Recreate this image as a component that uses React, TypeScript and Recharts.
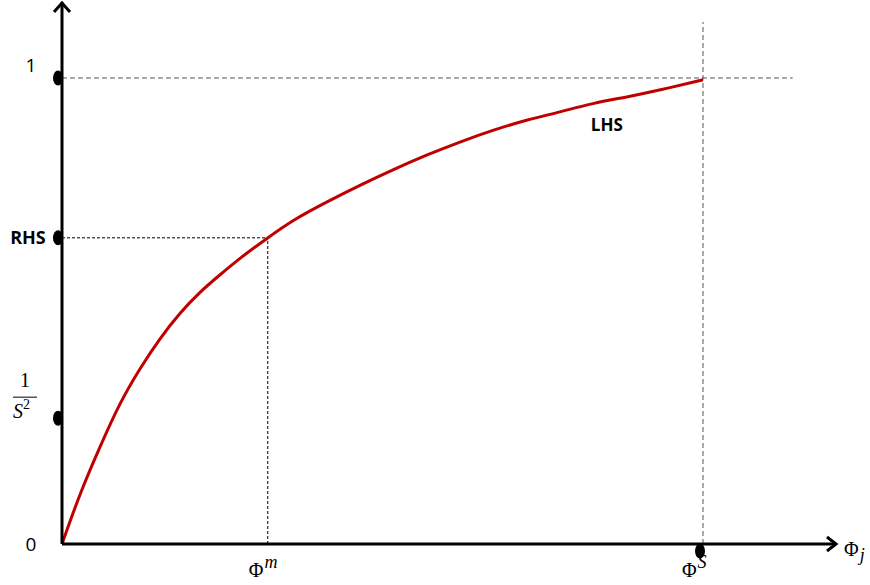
import React from "react";
import {
  Line,
  LineChart,
  ReferenceDot,
  ReferenceLine,
  XAxis,
  YAxis,
} from "recharts";

// Φ axis: Φ^S = 1. Vertical axis: top dashed level = 1.
const PHI_VALUES = [
  0, 0.028, 0.059, 0.09, 0.122, 0.153, 0.184, 0.215, 0.246, 0.278, 0.321, 0.36,
  0.413, 0.465, 0.516, 0.569, 0.621, 0.672, 0.725, 0.777, 0.828, 0.881, 0.933, 1,
];
const LHS_VALUES = [
  0, 0.109, 0.208, 0.303, 0.378, 0.442, 0.496, 0.541, 0.577, 0.614, 0.657, 0.695,
  0.734, 0.77, 0.803, 0.835, 0.863, 0.888, 0.91, 0.927, 0.946, 0.959, 0.974, 0.996,
];

const PHI_M = 0.321;
const PHI_S = 1;
const RHS_LEVEL = 0.657;
const INV_S2 = 0.27;
const TOP_LEVEL = 1;

const X_MAX = 1.2075;
const Y_MAX = 1.163;
const X_TICKS = [PHI_M, PHI_S];
const Y_TICKS = [0, INV_S2, RHS_LEVEL, TOP_LEVEL];

const data = PHI_VALUES.map((phi, i) => ({ phi, lhs: LHS_VALUES[i] }));

const sans = "'Open Sans', 'Noto Sans', sans-serif";
const serif = "'Liberation Serif', 'DejaVu Serif', serif";

function YTick({ x, y, payload }: any) {
  const v = payload?.value;
  if (v === 0) {
    return (
      <text x={x - 31} y={y + 2} textAnchor="middle" fontFamily={sans} fontSize={19} fill="#000" dominantBaseline="middle">
        0
      </text>
    );
  }
  if (v === TOP_LEVEL) {
    return (
      <text x={x - 31} y={y - 11} textAnchor="middle" fontFamily={sans} fontSize={19} fill="#000" dominantBaseline="middle">
        1
      </text>
    );
  }
  if (v === RHS_LEVEL) {
    return (
      <text x={x - 34} y={y + 1} textAnchor="middle" fontFamily={sans} fontSize={18} fontWeight="bold" fill="#000" dominantBaseline="middle">
        RHS
      </text>
    );
  }
  if (v === INV_S2) {
    return (
      <g fontFamily={serif} fill="#000">
        <text x={x - 37} y={y - 31} fontSize={20} textAnchor="middle">
          1
        </text>
        <line x1={x - 49} x2={x - 25} y1={y - 21} y2={y - 21} stroke="#000" strokeWidth={1} />
        <text x={x - 49} y={y} fontSize={20} fontStyle="italic">
          S
          <tspan fontStyle="normal" fontSize={14} dy={-9}>
            2
          </tspan>
        </text>
      </g>
    );
  }
  return null;
}

function XTick({ x, y, payload }: any) {
  const v = payload?.value;
  const sup = v === PHI_M ? "m" : "S";
  const shift = v === PHI_M ? 19 : 21;
  return (
    <text x={x - shift} y={y + 33} fontFamily={serif} fontSize={20} fill="#000">
      Φ
      <tspan fontStyle="italic" fontSize={18} dy={-9} dx={1}>
        {sup}
      </tspan>
    </text>
  );
}

function XArrow({ x2, y2 }: any) {
  return (
    <g>
      <polyline points={`${x2 - 9},${y2 - 7} ${x2},${y2} ${x2 - 9},${y2 + 7}`} fill="none" stroke="#000" strokeWidth={3} />
      <text x={x2 + 8} y={y2 + 12} fontFamily={serif} fontSize={20} fill="#000">
        Φ
        <tspan fontStyle="italic" fontSize={18} dy={5} dx={1}>
          j
        </tspan>
      </text>
    </g>
  );
}

function YArrow({ x2, y2 }: any) {
  return (
    <polyline points={`${x2 - 8},${y2 + 10} ${x2},${y2 + 1} ${x2 + 8},${y2 + 10}`} fill="none" stroke="#000" strokeWidth={3} />
  );
}

function AxisDot({ cx, cy, dx = -4, dy = 0 }: any) {
  return <ellipse cx={cx + dx} cy={cy + dy} rx={5} ry={7.5} fill="#000" />;
}

export default function App() {
  return (
    <div style={{ position: "fixed", left: 0, top: 0, background: "#fff" }}>
      <LineChart width={870} height={585} data={data} margin={{ top: 2, right: 34, left: 0, bottom: 0 }}>
        <XAxis
          type="number"
          dataKey="phi"
          domain={[0, X_MAX]}
          ticks={X_TICKS}
          tick={<XTick />}
          tickLine={false}
          tickSize={0}
          tickMargin={0}
          axisLine={{ stroke: "#000", strokeWidth: 3 }}
          height={41}
          interval={0}
          allowDataOverflow
        />
        <YAxis
          type="number"
          domain={[0, Y_MAX]}
          ticks={Y_TICKS}
          tick={<YTick />}
          tickLine={false}
          tickSize={0}
          tickMargin={0}
          axisLine={{ stroke: "#000", strokeWidth: 3 }}
          width={62}
          interval={0}
          allowDataOverflow
        />
        <ReferenceLine
          segment={[{ x: 0, y: TOP_LEVEL }, { x: 1.14, y: TOP_LEVEL }]}
          stroke="#555"
          strokeDasharray="5 3"
          strokeWidth={1}
          ifOverflow="visible"
        />
        <ReferenceLine
          segment={[{ x: PHI_S, y: 0 }, { x: PHI_S, y: 1.12 }]}
          stroke="#555"
          strokeDasharray="5 3"
          strokeWidth={1}
          ifOverflow="visible"
        />
        <ReferenceLine
          segment={[{ x: 0, y: RHS_LEVEL }, { x: PHI_M, y: RHS_LEVEL }]}
          stroke="#000"
          strokeDasharray="3 2"
          strokeWidth={1}
          ifOverflow="visible"
        />
        <ReferenceLine
          segment={[{ x: PHI_M, y: 0 }, { x: PHI_M, y: RHS_LEVEL }]}
          stroke="#000"
          strokeDasharray="3 2"
          strokeWidth={1}
          ifOverflow="visible"
        />
        <Line
          type="basis"
          dataKey="lhs"
          stroke="#C00000"
          strokeWidth={3}
          dot={false}
          activeDot={false}
          isAnimationActive={false}
        />
        <ReferenceLine
          segment={[{ x: 0, y: 0 }, { x: X_MAX, y: 0 }]}
          stroke="none"
          ifOverflow="visible"
          shape={(p: any) => <XArrow {...p} />}
        />
        <ReferenceLine
          segment={[{ x: 0, y: 0 }, { x: 0, y: Y_MAX }]}
          stroke="none"
          ifOverflow="visible"
          shape={(p: any) => <YArrow {...p} />}
        />
        <ReferenceDot x={0} y={TOP_LEVEL} ifOverflow="visible" shape={(p: any) => <AxisDot {...p} />} />
        <ReferenceDot x={0} y={RHS_LEVEL} ifOverflow="visible" shape={(p: any) => <AxisDot {...p} />} />
        <ReferenceDot x={0} y={INV_S2} ifOverflow="visible" shape={(p: any) => <AxisDot {...p} />} />
        <ReferenceDot x={PHI_S} y={0} ifOverflow="visible" shape={(p: any) => <AxisDot {...p} dx={-3} dy={7} />} />
        <ReferenceDot
          x={0.85}
          y={0.9}
          r={0}
          ifOverflow="visible"
          label={{ value: "LHS", position: "center", fontFamily: sans, fontSize: 17, fontWeight: "bold", fill: "#000" }}
        />
      </LineChart>
    </div>
  );
}
